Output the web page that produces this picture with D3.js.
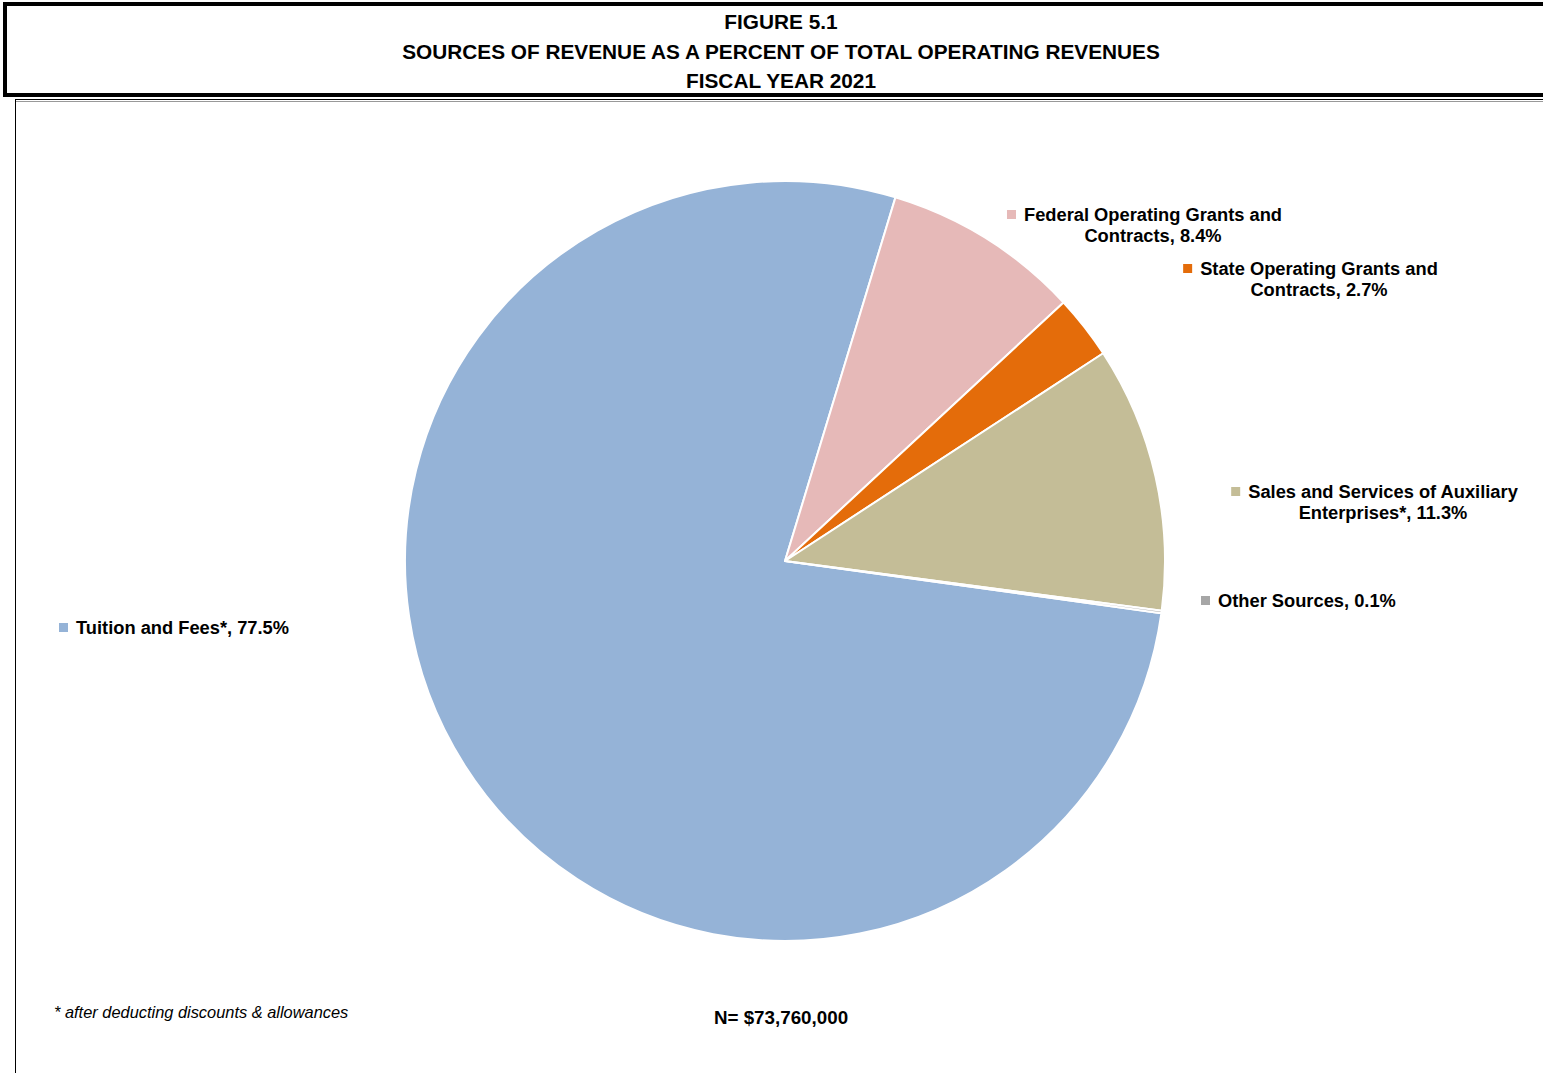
<!DOCTYPE html>
<html>
<head>
<meta charset="utf-8">
<script src="https://cdn.jsdelivr.net/npm/d3@7"></script>
<style>
  html, body { margin: 0; padding: 0; background: #fff; }
  svg { display: block; }
  text { font-family: "Liberation Sans", Arial, sans-serif; fill: #000; }
</style>
</head>
<body>
<svg id="chart" width="1543" height="1073"></svg>
<script>
// ---- data ----
const categories = [
  "Tuition and Fees*",
  "Federal Operating Grants and Contracts",
  "State Operating Grants and Contracts",
  "Sales and Services of Auxiliary Enterprises*",
  "Other Sources"
];
const values = [77.5, 8.4, 2.7, 11.3, 0.1];
const labelLines = [
  ["Tuition and Fees*, 77.5%"],
  ["Federal Operating Grants and", "Contracts, 8.4%"],
  ["State Operating Grants and", "Contracts, 2.7%"],
  ["Sales and Services of Auxiliary", "Enterprises*, 11.3%"],
  ["Other Sources, 0.1%"]
];
const titleLines = ["FIGURE 5.1", "SOURCES OF REVENUE AS A PERCENT OF TOTAL OPERATING REVENUES", "FISCAL YEAR 2021"];
const totalLabel = "N= $73,760,000";
const footnote = "* after deducting discounts & allowances";

// ---- styles / layout ----
const colors = ["#95B3D7", "#E6B9B8", "#E46C0A", "#C4BD97", "#A6A6A6"];
const labelLayout = [
  {x: 76, y: 634, anchor: "start"},
  {x: 1153, y: 221, anchor: "middle"},
  {x: 1319, y: 275, anchor: "middle"},
  {x: 1383, y: 498, anchor: "middle"},
  {x: 1218, y: 607, anchor: "start"}
];
const labelFont = 18.3;

const svg = d3.select("#chart");

// title frame
svg.append("rect").attr("x", 5).attr("y", 4).attr("width", 1560).attr("height", 91)
  .attr("fill", "none").attr("stroke", "#000").attr("stroke-width", 4);
// plot frame
svg.append("rect").attr("x", 15.5).attr("y", 99.5).attr("width", 1560).attr("height", 1000)
  .attr("fill", "none").attr("stroke", "#000").attr("stroke-width", 1);
svg.append("line").attr("x1", 16).attr("x2", 1543).attr("y1", 101.5).attr("y2", 101.5)
  .attr("stroke", "#999").attr("stroke-width", 1);

const titleY = [29, 59, 88];
titleLines.forEach((t, i) => {
  svg.append("text").attr("x", 781).attr("y", titleY[i]).attr("text-anchor", "middle")
    .attr("font-size", 20.8).attr("font-weight", "bold").text(t);
});

// pie
const cx = 785, cy = 561, R = 380;
const tuitionEnd = 16.9 * Math.PI / 180;
const total = d3.sum(values);
const start = tuitionEnd - values[0] / total * 2 * Math.PI;
const pie = d3.pie().sort(null).value(d => d).startAngle(start).endAngle(start + 2 * Math.PI);
const arc = d3.arc().innerRadius(0).outerRadius(R);
const g = svg.append("g").attr("transform", `translate(${cx},${cy})`);
g.selectAll("path").data(pie(values)).join("path")
  .attr("d", arc)
  .attr("fill", (d, i) => colors[i])
  .attr("stroke", "#fff").attr("stroke-width", 2).attr("stroke-linejoin", "round");

// labels
const measure = svg.append("text").attr("font-size", labelFont).attr("font-weight", "bold").attr("visibility", "hidden");
labelLines.forEach((lines, i) => {
  const L = labelLayout[i];
  lines.forEach((ln, j) => {
    svg.append("text").attr("x", L.x).attr("y", L.y + j * 21)
      .attr("text-anchor", L.anchor).attr("font-size", labelFont).attr("font-weight", "bold").text(ln);
  });
  measure.text(lines[0]);
  const w = measure.node().getComputedTextLength();
  const left = L.anchor === "middle" ? L.x - w / 2 : L.x;
  svg.append("rect").attr("x", left - 17).attr("y", L.y - 11).attr("width", 9).attr("height", 9)
    .attr("fill", colors[i]);
});
measure.remove();

svg.append("text").attr("x", 54).attr("y", 1018).attr("font-size", 16.4).attr("font-style", "italic").text(footnote);
svg.append("text").attr("x", 781).attr("y", 1024).attr("text-anchor", "middle")
  .attr("font-size", 18.8).attr("font-weight", "bold").text(totalLabel);
</script>
</body>
</html>
